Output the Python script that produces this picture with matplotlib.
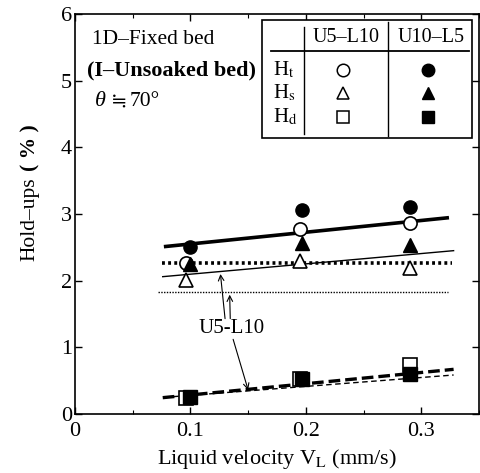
import matplotlib
matplotlib.use("Agg")
import matplotlib.pyplot as plt
from matplotlib.ticker import MultipleLocator
from matplotlib.patches import Rectangle

plt.rcParams['font.family'] = ['Liberation Serif', 'DejaVu Serif', 'DejaVu Sans']
plt.rcParams['mathtext.fontset'] = 'stix'

# ---- data ----
vl_open = [0.096, 0.195, 0.290]
vl_filled = [0.100, 0.197, 0.290]
ht_u5 = [2.26, 2.77, 2.86]
ht_u10 = [2.51, 3.06, 3.11]
hs_u5 = [2.01, 2.29, 2.19]
hs_u10 = [2.25, 2.56, 2.54]
hd_u5 = [0.245, 0.52, 0.735]
hd_u10 = [0.26, 0.52, 0.60]

fit_ht_x = [0.077, 0.324]
fit_ht_y = [2.51, 2.945]
fit_hs_x = [0.076, 0.328]
fit_hs_y = [2.06, 2.45]
avg_thick_x = [0.075, 0.327]
avg_thick_y = [2.27, 2.27]
avg_thin_x = [0.072, 0.323]
avg_thin_y = [1.835, 1.835]
fit_hd_thick_x = [0.076, 0.328]
fit_hd_thick_y = [0.245, 0.67]
fit_hd_thin_x = [0.085, 0.328]
fit_hd_thin_y = [0.26, 0.585]

x_ticks = [0, 0.1, 0.2, 0.3]
x_ticklabels = ['0', '0.1', '0.2', '0.3']
table_cols = ['U5\u2013L10', 'U10\u2013L5']
table_rows = ['H$_{\\mathrm{t}}$', 'H$_{\\mathrm{s}}$', 'H$_{\\mathrm{d}}$']

fig = plt.figure(figsize=(4.81, 4.73), dpi=100)
ax = fig.add_axes([75/481, 59/473, 404/481, 400/473])

# fit lines
ax.plot(fit_ht_x, fit_ht_y, color='black', lw=2.6, solid_capstyle='butt', zorder=2)
ax.plot(fit_hs_x, fit_hs_y, color='black', lw=1.0, zorder=2)
ax.plot(avg_thick_x, avg_thick_y, color='black', lw=2.6, linestyle=(0, (0.8, 0.9)), zorder=2)
ax.plot(avg_thin_x, avg_thin_y, color='black', lw=1.0, linestyle=(0, (1, 1)), zorder=2)
ax.plot(fit_hd_thick_x, fit_hd_thick_y, color='black', lw=2.4, linestyle=(0, (3.5, 1.5)), zorder=2)
ax.plot(fit_hd_thin_x, fit_hd_thin_y, color='black', lw=1.0, linestyle=(0, (4, 2.5)), zorder=2)

ms = 9.5
ax.plot(vl_open, ht_u5, 'o', ms=ms, mfc='white', mec='black', mew=1.2, zorder=3)
ax.plot(vl_filled, ht_u10, 'o', ms=ms, mfc='black', mec='black', zorder=3)
ax.plot(vl_open, hs_u5, '^', ms=ms, mfc='white', mec='black', mew=1.2, zorder=3)
ax.plot(vl_filled, hs_u10, '^', ms=ms, mfc='black', mec='black', zorder=3)
ax.plot(vl_open, hd_u5, 's', ms=ms, mfc='white', mec='black', mew=1.2, zorder=3)
ax.plot(vl_filled, hd_u10, 's', ms=ms, mfc='black', mec='black', zorder=4)

ax.set_xlim(0, 0.35)
ax.set_ylim(0, 6)
ax.xaxis.set_minor_locator(MultipleLocator(0.05))
ax.yaxis.set_major_locator(MultipleLocator(1))
ax.set_xticks(x_ticks)
ax.set_xticklabels(x_ticklabels)
ax.tick_params(which='both', direction='in', top=True, right=True, labelsize=16)
ax.tick_params(axis='x', pad=6)
ax.tick_params(axis='y', pad=2)
ax.tick_params(which='major', length=5, width=1)
ax.tick_params(which='minor', length=3, width=0.8)
for s in ax.spines.values():
    s.set_linewidth(1.2)

ax.set_xlabel('Liquid velocity V$_{\\mathrm{L}}$ (mm/s)', fontsize=16, labelpad=4)
fig.text(30/481, 1 - 177/473, 'Hold\u2013ups', rotation=90, fontsize=15.5, ha='center', va='top')
fig.text(30/481, 1 - 171/473, '( % )', rotation=90, fontsize=15.5, fontweight='bold', ha='center', va='bottom')

# annotations in upper left
T = ax.transAxes
ax.text(0.042, 0.935, '1D\u2013Fixed bed', transform=T, fontsize=15.5, va='center', ha='left')
ax.text(0.03, 0.86, '(I\u2013Unsoaked bed)', transform=T, fontsize=16, fontweight='bold', va='center', ha='left')
ax.text(0.049, 0.78, '\u03b8', transform=T, fontsize=16, style='italic', va='center', ha='left')
ax.text(0.09, 0.78, '\u2252', transform=T, fontsize=14, va='center', ha='left',
        family=['DejaVu Serif', 'DejaVu Sans'])
ax.text(0.135, 0.78, '70\u00b0', transform=T, fontsize=15.5, va='center', ha='left')

# legend table
ax.add_patch(Rectangle((0.464, 0.69), 0.983 - 0.464, 0.985 - 0.69, transform=T,
                       fill=True, facecolor='white', edgecolor='black', lw=1.2, zorder=5))
ax.plot([0.486, 0.975], [0.908, 0.908], transform=T, color='black', lw=1.3, zorder=6)
ax.plot([0.568, 0.568], [0.968, 0.70], transform=T, color='black', lw=1.0, zorder=6)
ax.plot([0.775, 0.775], [0.98, 0.695], transform=T, color='black', lw=1.0, zorder=6)
for lab, xx in zip(table_cols, [0.6715, 0.8815]):
    ax.text(xx, 0.94, lab, transform=T, fontsize=14.5, ha='center', va='center', zorder=7)
row_y = [0.86, 0.8017, 0.743]
for lab, yy in zip(table_rows, row_y):
    ax.text(0.489, yy, lab, transform=T, fontsize=15, ha='left', va='center', zorder=7)
lm = 9
for mk, yy in zip(['o', '^', 's'], row_y):
    ax.plot([0.664], [yy], mk, transform=T, ms=lm, mfc='white', mec='black', mew=1.1, zorder=7)
    ax.plot([0.874], [yy], mk, transform=T, ms=lm, mfc='black', mec='black', zorder=7)

# U5-L10 label with arrows
ax.text(0.1356, 1.285, 'U5-L10', fontsize=15, ha='center', va='center')
ap = dict(arrowstyle='->', color='black', lw=0.8, shrinkA=0, shrinkB=0)
ax.annotate('', xy=(0.126, 2.10), xytext=(0.130, 1.43), arrowprops=ap)
ax.annotate('', xy=(0.134, 1.79), xytext=(0.1345, 1.43), arrowprops=ap)
ax.annotate('', xy=(0.150, 0.36), xytext=(0.137, 1.12), arrowprops=ap)

fig.savefig('out.png', dpi=100)
